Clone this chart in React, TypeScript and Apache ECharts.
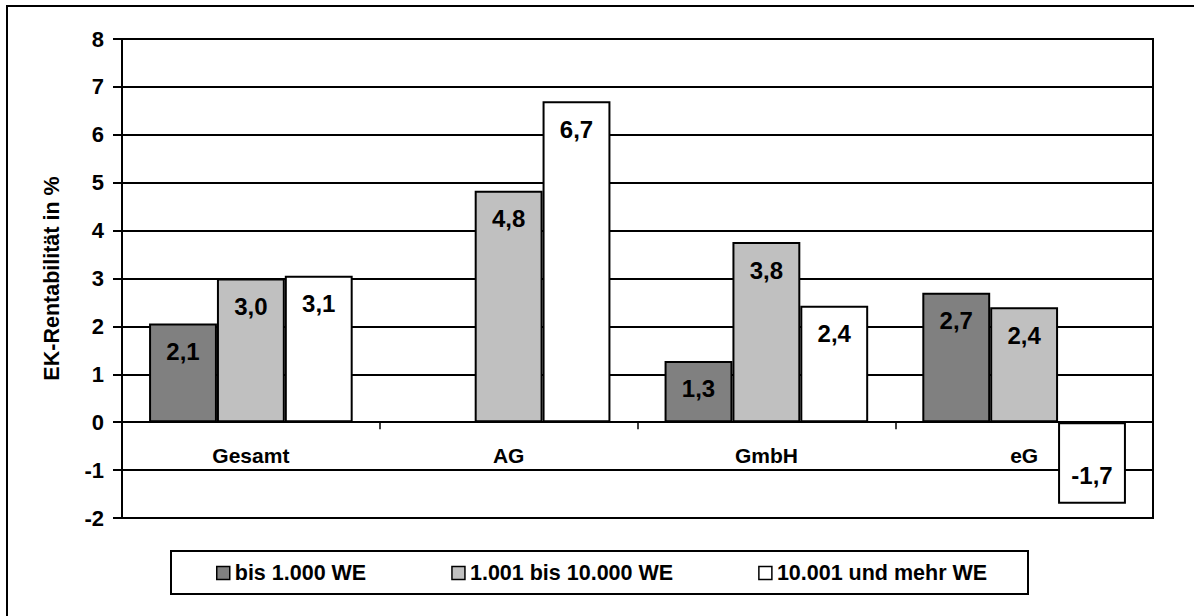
import React, { useEffect, useRef } from "react";
import * as echarts from "echarts";

const categories = ["Gesamt", "AG", "GmbH", "eG"];
const seriesNames = ["bis 1.000 WE", "1.001 bis 10.000 WE", "10.001 und mehr WE"];
const smallValues = [2.06, null, 1.28, 2.7];
const midValues = [3.0, 4.83, 3.76, 2.4];
const largeValues = [3.06, 6.7, 2.43, -1.7];
const colors = ["#808080", "#C0C0C0", "#FFFFFF"];
const yTicks = { min: -2, max: 8, interval: 1 };

const FONT = "'Liberation Sans', Arial, Helvetica, sans-serif";

export default function App() {
  const ref = useRef<HTMLDivElement>(null);
  useEffect(() => {
    if (!ref.current) return;
    const chart = echarts.init(ref.current, undefined, { renderer: "svg" });
    const fmt = (p: any) =>
      p.value == null ? "" : (Math.round(p.value * 10) / 10).toFixed(1).replace(".", ",");
    const mkData = (arr: (number | null)[]) =>
      arr.map((v) =>
        v != null && v < 0
          ? { value: v, label: { position: "insideBottom", distance: 16 } }
          : v
      );
    const allValues = [smallValues, midValues, largeValues];
    chart.setOption({
      animation: false,
      textStyle: { fontFamily: FONT },
      grid: {
        left: 122,
        right: 41,
        top: 39,
        bottom: 98,
        show: true,
        borderColor: "#000",
        borderWidth: 2,
        backgroundColor: "transparent",
      },
      legend: {
        left: 216,
        top: 562,
        padding: 0,
        itemWidth: 13,
        itemHeight: 13,
        itemGap: 85,
        icon: "rect",
        selectedMode: false,
        textStyle: { fontFamily: FONT, fontWeight: "bold", fontSize: 21.5, color: "#000" },
        data: seriesNames.map((n) => ({ name: n, itemStyle: { borderColor: "#000", borderWidth: 1.5 } })),
      },
      graphic: [
        {
          type: "rect",
          shape: { x: 7, y: 6, width: 1300, height: 800 },
          style: { fill: "none", stroke: "#000", lineWidth: 2 },
          silent: true,
        },
        {
          type: "rect",
          shape: { x: 171, y: 551, width: 857, height: 43 },
          style: { fill: "none", stroke: "#000", lineWidth: 2 },
          silent: true,
          z: -1,
        },
      ],
      xAxis: {
        type: "category",
        data: categories,
        axisLine: { onZero: true, lineStyle: { color: "#000", width: 2 } },
        axisTick: { show: true, length: 7, inside: false, lineStyle: { color: "#000", width: 1.5 } },
        axisLabel: {
          color: "#000",
          fontFamily: FONT,
          fontWeight: "bold",
          fontSize: 21,
          margin: -73,
        },
        splitLine: { show: false },
      },
      yAxis: {
        type: "value",
        min: yTicks.min,
        max: yTicks.max,
        interval: yTicks.interval,
        name: "EK-Rentabilität in %",
        nameLocation: "middle",
        nameGap: 59,
        nameTextStyle: { color: "#000", fontFamily: FONT, fontWeight: "bold", fontSize: 21.5 },
        axisLine: { show: true, lineStyle: { color: "#000", width: 2 } },
        axisTick: { show: true, length: 9, lineStyle: { color: "#000", width: 2 } },
        axisLabel: {
          color: "#000",
          fontFamily: FONT,
          fontWeight: "bold",
          fontSize: 22,
          margin: 18,
        },
        splitLine: { show: true, lineStyle: { color: "#000", width: 2 } },
      },
      series: seriesNames.map((name, i) => ({
        name,
        type: "bar",
        data: mkData(allValues[i]),
        barGap: "0%",
        barCategoryGap: "21%",
        itemStyle: { color: colors[i], borderColor: "#000", borderWidth: 2 },
        label: {
          show: true,
          position: "insideTop",
          distance: 16,
          formatter: fmt,
          color: "#000",
          fontFamily: FONT,
          fontWeight: "bold",
          fontSize: 24,
        },
      })),
    });
    return () => chart.dispose();
  }, []);
  return (
    <div
      ref={ref}
      style={{ position: "fixed", left: 0, top: 0, width: 1194, height: 616, background: "#fff" }}
    />
  );
}
